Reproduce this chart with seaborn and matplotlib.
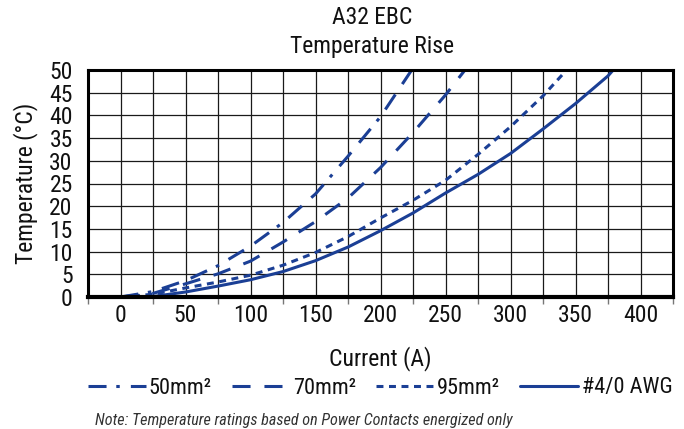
import matplotlib
matplotlib.use("Agg")
import matplotlib.pyplot as plt
import seaborn as sns
import pandas as pd
import numpy as np

# Series (current in A, temperature rise in deg C)
series_names = ["50mm²", "70mm²", "95mm²", "#4/0 AWG"]

current_50 = [0, 25, 50, 75, 100, 125, 150, 175, 200, 224]
temp_50 = [0, 1.2, 3.6, 6.9, 11.2, 16.4, 22.7, 31.0, 39.7, 50]

current_70 = [0, 25, 50, 75, 100, 125, 150, 175, 200, 225, 250, 265]
temp_70 = [0, 0.8, 2.9, 5.1, 7.9, 12.1, 16.6, 21.8, 28.5, 36.2, 44.5, 50]

current_95 = [0, 25, 50, 75, 100, 125, 150, 175, 200, 225, 250, 275, 300, 325, 340]
temp_95 = [0, 0.6, 2.0, 3.3, 4.8, 7.0, 9.8, 13.3, 17.4, 21.3, 25.7, 31.4, 37.5, 44.3, 49]

current_awg = [0, 25, 50, 75, 100, 125, 150, 175, 200, 225, 250, 275, 300, 325, 350, 375, 379]
temp_awg = [0, 0.1, 1.1, 2.4, 3.8, 5.6, 8.0, 11.0, 14.6, 18.5, 22.9, 27.0, 31.6, 37.0, 42.6, 48.7, 50]

x_labels = [0, 50, 100, 150, 200, 250, 300, 350, 400]
y_labels = [0, 5, 10, 15, 20, 25, 30, 35, 40, 45, 50]

# Build a long table for seaborn
frames = []
for name, cx, ty in zip(series_names,
                        [current_50, current_70, current_95, current_awg],
                        [temp_50, temp_70, temp_95, temp_awg]):
    frames.append(pd.DataFrame({"current": cx, "temp": ty, "cable": name}))
df = pd.concat(frames, ignore_index=True)

sns.set_theme(style="white")
# narrow face close to the original Arial Narrow look
plt.rcParams["font.family"] = ["Roboto Condensed", "DejaVu Sans"]
plt.rcParams["lines.scale_dashes"] = False

blue = "#1b3f95"
dash_styles = {
    "50mm²": (13, 7, 2.5, 8, 13, 9),
    "70mm²": (13, 10),
    "95mm²": (5, 4),
    "#4/0 AWG": "",
}

fig = plt.figure(figsize=(6.84, 4.29), dpi=100)
ax = fig.add_axes([88 / 684, 1 - 297 / 429, (673 - 88) / 684, (297 - 70) / 429])

sns.lineplot(data=df, x="current", y="temp", style="cable", dashes=dash_styles,
             color=blue, linewidth=2.2, sort=False, estimator=None, ax=ax, legend=False)

ax.set_xlim(-25, 425)
ax.set_ylim(0, 50)
ax.set_xticks(x_labels)
ax.set_xticklabels([str(v) for v in x_labels])
ax.set_xticks(np.arange(-25, 426, 50), minor=True)
ax.set_yticks(y_labels)
ax.set_yticklabels([str(v) for v in y_labels])

ax.grid(True, which="both", color="#1a1a1a", linewidth=0.9)
ax.set_axisbelow(True)
ax.tick_params(axis="x", which="major", length=0, pad=5, labelsize=17, colors="#111111")
ax.tick_params(axis="x", which="minor", length=5, width=1, color="#777777", bottom=True)
ax.tick_params(axis="y", length=0, pad=11, labelsize=17, colors="#111111")
for side in ["left", "right", "top", "bottom"]:
    ax.spines[side].set_visible(True)
    ax.spines[side].set_color("black")
    ax.spines[side].set_linewidth(2.2)
ax.spines["bottom"].set_linewidth(3)

ax.set_xlabel("Current (A)", fontsize=17, color="#111111", labelpad=14)
ax.set_ylabel("Temperature (°C)", fontsize=17, color="#111111", labelpad=8)

fig.text(372 / 684, 1 - 17 / 429, "A32 EBC", ha="center", va="center", fontsize=17, color="#111111")
fig.text(372 / 684, 1 - 47 / 429, "Temperature Rise", ha="center", va="center", fontsize=17, color="#111111")

handles = ax.get_lines()[:4]
fig.legend(handles, series_names, loc="center", bbox_to_anchor=(380 / 684, 1 - 388 / 429),
           ncol=4, frameon=False, fontsize=16, handlelength=2.6, handletextpad=0.15,
           columnspacing=0.9, labelcolor="#111111")

fig.text(95 / 684, 1 - 420 / 429, "Note: Temperature ratings based on Power Contacts energized only",
         ha="left", va="center", fontsize=11.6, style="italic", color="#333333")

fig.savefig("out.png", dpi=100, facecolor="white")
